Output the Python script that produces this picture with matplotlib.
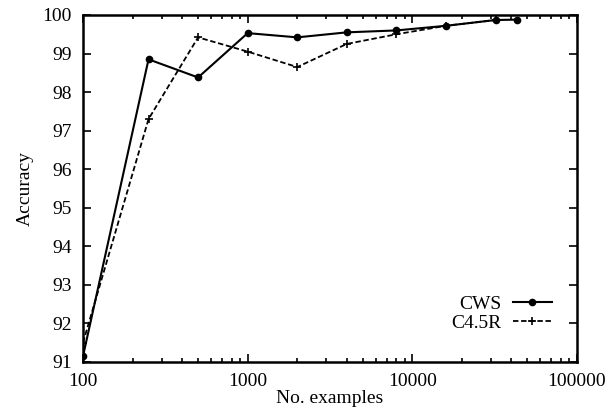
import matplotlib
matplotlib.use("Agg")
import matplotlib.pyplot as plt
from matplotlib.ticker import LogLocator, NullFormatter, FixedLocator

plt.rcParams['font.family'] = ['Liberation Serif', 'DejaVu Serif']

# data
cws_x = [100, 250, 500, 1000, 2000, 4000, 8000, 16000, 32000, 43000]
cws_y = [91.15, 98.85, 98.38, 99.53, 99.42, 99.55, 99.6, 99.72, 99.87, 99.88]

c45_x = [100, 250, 500, 1000, 2000, 4000, 8000, 16000, 32000]
c45_y = [91.5, 97.3, 99.42, 99.05, 98.65, 99.25, 99.5, 99.72, 99.87]

y_ticks = [91, 92, 93, 94, 95, 96, 97, 98, 99, 100]
x_ticks = [100, 1000, 10000, 100000]

fig = plt.figure(figsize=(6.11, 4.12), dpi=100)
ax = fig.add_axes([83 / 611, 50 / 412, 494 / 611, 347 / 412])

ax.plot(cws_x, cws_y, color="black", linewidth=1.5, marker="o", markersize=4.5, label="CWS")
ax.plot(c45_x, c45_y, color="black", linewidth=1.3, linestyle=(0, (3, 1.5)), marker="+",
        markersize=6, markeredgewidth=1.2, label="C4.5R")

ax.set_xscale("log")
ax.set_xlim(100, 100000)
ax.set_ylim(91, 100)
ax.set_xticks(x_ticks)
ax.set_xticklabels([str(v) for v in x_ticks])
ax.xaxis.set_minor_locator(LogLocator(base=10, subs=range(2, 10)))
ax.xaxis.set_minor_formatter(NullFormatter())
ax.yaxis.set_major_locator(FixedLocator(y_ticks))
ax.set_yticklabels([str(v) for v in y_ticks])

ax.tick_params(which="both", direction="in", top=True, right=True, labelsize=14, width=1.2)
ax.tick_params(which="major", length=6, pad=8)
ax.tick_params(which="minor", length=3)
for s in ax.spines.values():
    s.set_linewidth(1.8)

ax.set_xlabel("No. examples", fontsize=14, labelpad=0)
ax.set_ylabel("Accuracy", fontsize=14, labelpad=6)

ax.legend(loc="lower right", frameon=False, markerfirst=False, fontsize=14, handlelength=2.0,
          handletextpad=0.6, labelspacing=0.05, bbox_to_anchor=(0.965, 0.065), borderaxespad=0)

fig.savefig("out.png", dpi=100)
